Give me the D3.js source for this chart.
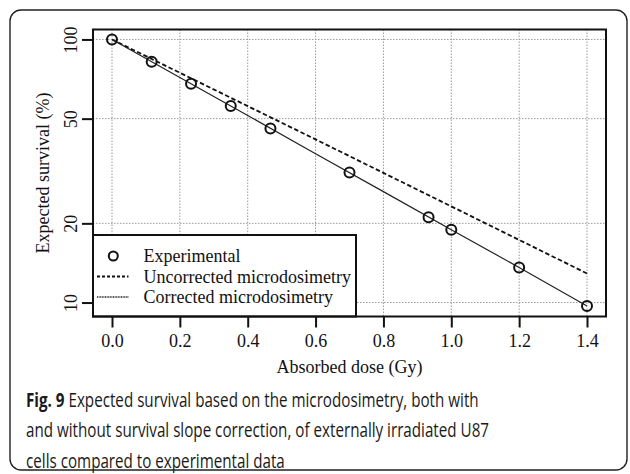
<!DOCTYPE html>
<html>
<head>
<meta charset="utf-8">
<script src="https://cdn.jsdelivr.net/npm/d3@7"></script>
<style>
  body { margin: 0; background: #fff; }
</style>
</head>
<body>
<div id="chart"></div>
<script>
// experimental points
var doses = [0, 0.117, 0.233, 0.35, 0.467, 0.7, 0.933, 1.0, 1.2, 1.4];
var survival = [100, 82.2, 67.8, 55.8, 45.9, 31.2, 21.1, 18.9, 13.6, 9.7];

// model curves
var modelDoses = [0, 0.2, 0.4, 0.6, 0.8, 1.0, 1.2, 1.4];
var uncorrected = [100, 74.7, 55.8, 41.7, 31.1, 23.2, 17.3, 12.9];
var corrected = [100, 71.7, 51.4, 36.8, 26.4, 18.9, 13.6, 9.7];

var xTicks = [0, 0.2, 0.4, 0.6, 0.8, 1.0, 1.2, 1.4];
var yTicks = [10, 20, 50, 100];
var legendLabels = ["Experimental", "Uncorrected microdosimetry", "Corrected microdosimetry"];
var captionLines = [
  ["Fig. 9", " Expected survival based on the microdosimetry, both with"],
  ["", "and without survival slope correction, of externally irradiated U87"],
  ["", "cells compared to experimental data"]
];

var W = 630, H = 474;
var svg = d3.select("#chart").append("svg").attr("width", W).attr("height", H);

// outer rounded frame
svg.append("rect")
  .attr("x", 10).attr("y", 10).attr("width", 617).attr("height", 460)
  .attr("rx", 11)
  .attr("fill", "none").attr("stroke", "#222").attr("stroke-width", 1.4);

var pLeft = 93, pRight = 606, pTop = 29.5, pBottom = 316.5;

var x = d3.scaleLinear().domain([-0.056, 1.456]).range([pLeft, pRight]);
var y = d3.scaleLog().domain([8.85, 109.1]).range([pBottom, pTop]);

var serif = "'Liberation Serif', 'Times New Roman', serif";

// grid
var grid = svg.append("g").attr("stroke", "#999").attr("stroke-width", 1).attr("stroke-dasharray", "1.5,1.5");
xTicks.forEach(function(t){
  grid.append("line").attr("x1", x(t)).attr("x2", x(t)).attr("y1", pTop).attr("y2", pBottom);
});
yTicks.forEach(function(t){
  grid.append("line").attr("x1", pLeft).attr("x2", pRight).attr("y1", y(t)).attr("y2", y(t));
});

// axes
var xAxis = d3.axisBottom(x).tickValues(xTicks).tickFormat(d3.format(".1f")).tickSize(11).tickPadding(7);
var gx = svg.append("g").attr("transform", "translate(0," + pBottom + ")").call(xAxis);
gx.select(".domain").remove();
gx.selectAll("line").attr("stroke", "#111").attr("stroke-width", 2);
gx.selectAll("text").attr("font-family", serif).attr("font-size", 18).attr("fill", "#111");

var yAxis = d3.axisLeft(y).tickValues(yTicks).tickFormat(d3.format("d")).tickSize(11);
var gy = svg.append("g").attr("transform", "translate(" + pLeft + ",0)").call(yAxis);
gy.select(".domain").remove();
gy.selectAll("line").attr("stroke", "#111").attr("stroke-width", 2);
gy.selectAll("text")
  .attr("font-family", serif).attr("font-size", 18).attr("fill", "#111")
  .attr("x", 0).attr("dy", 0)
  .attr("text-anchor", "middle")
  .attr("transform", "translate(-16,0) rotate(-90)");

// lines
var line = d3.line().x(function(d, i){ return x(modelDoses[i]); }).y(function(d){ return y(d); });
svg.append("path").datum(uncorrected).attr("d", line)
  .attr("fill", "none").attr("stroke", "#111").attr("stroke-width", 1.8).attr("stroke-dasharray", "4.5,2.5");
svg.append("path").datum(corrected).attr("d", line)
  .attr("fill", "none").attr("stroke", "#222").attr("stroke-width", 1.2);

// points
svg.selectAll(".pt").data(survival).enter().append("circle")
  .attr("class", "pt")
  .attr("cx", function(d, i){ return x(doses[i]); })
  .attr("cy", function(d){ return y(d); })
  .attr("r", 5)
  .attr("fill", "none").attr("stroke", "#111").attr("stroke-width", 2);

// legend
var lg = svg.append("g");
lg.append("rect").attr("x", pLeft).attr("y", 235).attr("width", 356 - pLeft).attr("height", pBottom - 235)
  .attr("fill", "#fff").attr("stroke", "#111").attr("stroke-width", 2);
var rows = [256, 276.5, 297];
lg.append("circle").attr("cx", 113.3).attr("cy", rows[0]).attr("r", 4.5)
  .attr("fill", "none").attr("stroke", "#111").attr("stroke-width", 2);
lg.append("line").attr("x1", 97).attr("x2", 128.5).attr("y1", rows[1]).attr("y2", rows[1])
  .attr("stroke", "#111").attr("stroke-width", 1.8).attr("stroke-dasharray", "3,2");
lg.append("line").attr("x1", 97).attr("x2", 128.5).attr("y1", rows[2]).attr("y2", rows[2])
  .attr("stroke", "#222").attr("stroke-width", 1.4).attr("stroke-dasharray", "1,0.6");
legendLabels.forEach(function(t, i){
  lg.append("text").attr("x", 143.5).attr("y", rows[i]).attr("dy", "0.35em")
    .attr("font-family", serif).attr("font-size", 18).attr("fill", "#111").text(t);
});

// plot frame
svg.append("rect").attr("x", pLeft).attr("y", pTop).attr("width", pRight - pLeft).attr("height", pBottom - pTop)
  .attr("fill", "none").attr("stroke", "#111").attr("stroke-width", 2);

// axis titles
svg.append("text").attr("x", (pLeft + pRight) / 2).attr("y", 373)
  .attr("text-anchor", "middle").attr("font-family", serif).attr("font-size", 18).attr("fill", "#111")
  .text("Absorbed dose (Gy)");
svg.append("text").attr("transform", "translate(49," + ((pTop + pBottom) / 2) + ") rotate(-90)")
  .attr("text-anchor", "middle").attr("font-family", serif).attr("font-size", 18).attr("fill", "#111")
  .text("Expected survival (%)");

// caption (narrowed to mimic the condensed journal font)
var cap = svg.append("g").attr("transform", "translate(26,0) scale(0.76,1)");
captionLines.forEach(function(l, i){
  var t = cap.append("text").attr("x", 0).attr("y", 407 + i * 30.5)
    .attr("font-family", "'Open Sans', sans-serif").attr("font-size", 20).attr("fill", "#1a1a1a");
  if (l[0]) t.append("tspan").attr("font-weight", "bold").text(l[0]);
  t.append("tspan").text(l[1]);
});
</script>
</body>
</html>
